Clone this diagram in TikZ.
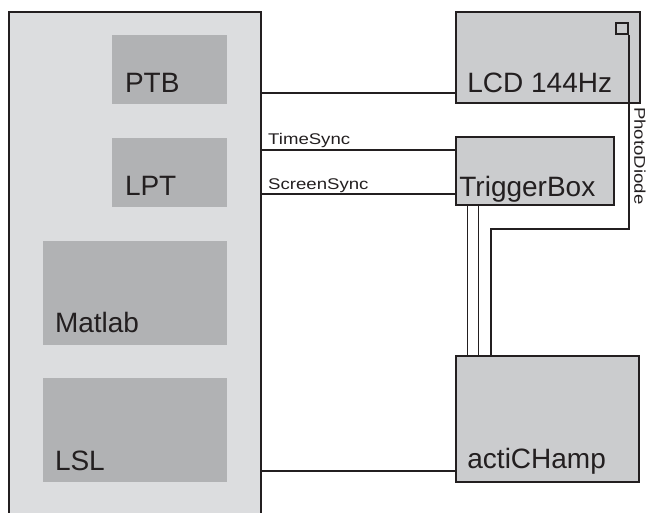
\documentclass[tikz,border=0pt]{standalone}
\usepackage{fontspec}
\setmainfont{Liberation Sans}
\usepackage{graphicx}
\usetikzlibrary{calc,positioning}
\definecolor{pcgray}{RGB}{220,221,223}
\definecolor{appgray}{RGB}{177,178,180}
\definecolor{devgray}{RGB}{203,204,206}
\definecolor{ink}{RGB}{35,31,32}
\tikzset{
    host/.style = {draw=ink, line width=2pt, fill=pcgray, rectangle,
        minimum width=252pt, minimum height=520pt},
    app/.style = {fill=appgray, rectangle, inner sep=0pt},
    device/.style = {draw=ink, line width=1.6pt, fill=devgray, rectangle, inner sep=0pt},
    boxlabel/.style = {anchor=base west, inner sep=0pt, text=ink, font=\fontsize{28}{32}\selectfont},
    wirelabel/.style = {anchor=base west, inner sep=0pt, text=ink, font=\fontsize{15.5}{18}\selectfont},
    wire/.style = {draw=ink, line width=1.6pt},
    bus/.style = {draw=ink, line width=2.3pt}
}

\begin{document}
\begin{tikzpicture}[x=1pt, y=1pt]
    \useasboundingbox (0,0) rectangle (651,513);
    \node [host] (pc) at (135,241) {};
    \node [app, minimum width=115pt, minimum height=69pt] (ptb) at (169.5,443.5) {};
    \node [app, minimum width=115pt, minimum height=69pt, below of=ptb, node distance=103pt] (lpt) {};
    \node [app, minimum width=184pt, minimum height=104pt] (matlab) at (135,220) {};
    \node [app, minimum width=184pt, minimum height=104pt, below of=matlab, node distance=137pt] (lsl) {};
    \node [boxlabel] (ptbtxt) at ($(ptb.south west)+(13,12)$) {PTB};
    \node [boxlabel] (lpttxt) at ($(lpt.south west)+(13,12)$) {LPT};
    \node [boxlabel] (matlabtxt) at ($(matlab.south west)+(12,13)$) {Matlab};
    \node [boxlabel] (lsltxt) at ($(lsl.south west)+(12,12)$) {LSL};

    \node [device, minimum width=184pt, minimum height=91pt] (lcd) at (548,455.5) {};
    \node [device, minimum width=158pt, minimum height=68pt] (trig) at (535,342) {};
    \node [device, minimum width=183pt, minimum height=126pt] (champ) at (547.5,94) {};
    \node [boxlabel] (lcdtxt) at ($(lcd.south west)+(12,11)$) {LCD 144Hz};
    \node [boxlabel] (trigtxt) at ($(trig.south west)+(4,9)$) {TriggerBox};
    \node [boxlabel] (champtxt) at ($(champ.south west)+(12,14)$) {actiCHamp};
    \node [draw=ink, line width=1.6pt, inner sep=0pt, minimum width=12pt, minimum height=11pt] (pd) at (622,484.2) {};

    \draw [bus] ($(lcd.south west)+(0,11)$) coordinate (lcdin) -- (pc.east |- lcdin);
    \draw [wire] ($(trig.south west)+(0,56)$) coordinate (tsin) -- (pc.east |- tsin);
    \draw [wire] ($(trig.south west)+(0,11.7)$) coordinate (ssin) -- (pc.east |- ssin);
    \node [wirelabel] (tstxt) at ($(pc.east |- tsin)+(6,5.7)$) {\scalebox{1.2}[1]{TimeSync}};
    \node [wirelabel] (sstxt) at ($(pc.east |- ssin)+(6,5)$) {\scalebox{1.2}[1]{ScreenSync}};
    \draw [bus] ($(champ.south west)+(0,12)$) coordinate (champin) -- (pc.east |- champin);

    \draw [wire] ($(trig.south west)+(12.3,0)$) coordinate (trig1) -- (trig1 |- champ.north);
    \draw [wire] ($(trig.south west)+(23.3,0)$) coordinate (trig2) -- (trig2 |- champ.north);
    \coordinate (pdbend) at (490.7,283.7);
    \draw [wire] (pd.south east) |- (pdbend) -- (pdbend |- champ.north);
    \node [wirelabel, rotate=-90] (pdtxt) at (634.3,406) {\scalebox{1.2}[1]{PhotoDiode}};
\end{tikzpicture}
\end{document}
